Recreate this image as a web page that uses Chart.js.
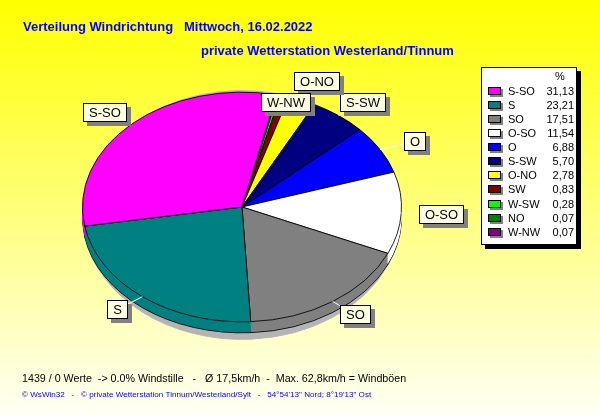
<!DOCTYPE html>
<html>
<head>
<meta charset="utf-8">
<script src="https://cdn.jsdelivr.net/npm/chart.js@4"></script>
<style>
  html, body { margin: 0; padding: 0; }
  canvas { display: block; background: linear-gradient(#ffff00, #fffff6); }
</style>
</head>
<body>
<canvas id="windChart" width="600" height="415"></canvas>
<script>
// Windrichtungen und Anteile in %
const richtungen = ['S-SO', 'S', 'SO', 'O-SO', 'O', 'S-SW', 'O-NO', 'SW', 'W-SW', 'NO', 'W-NW'];
const anteile = [31.13, 23.21, 17.51, 11.54, 6.88, 5.70, 2.78, 0.83, 0.28, 0.07, 0.07];
const farben = ['#ff00ff', '#008080', '#808080', '#ffffff', '#0000ff', '#000080', '#ffff00', '#800000', '#00ff00', '#008000', '#800080'];
const ohneLabel = ['SW', 'W-SW', 'NO'];

const titel = 'Verteilung Windrichtung   Mittwoch, 16.02.2022';
const untertitel = 'private Wetterstation Westerland/Tinnum';
const fusszeile = '1439 / 0 Werte  -> 0.0% Windstille   -   \u00d8 17,5km/h  -  Max. 62,8km/h = Windb\u00f6en';
const copyright = '\u00a9 WsWin32   -   \u00a9 private Wetterstation Tinnum/Westerland/Sylt   -   54\u00b054\'13" Nord; 8\u00b019\'13" Ost';

const NEIGUNG = 0.72;   // Kippung der Torte
const TIEFE = 11;       // Dicke der Torte
const FONT = '"Liberation Sans", Arial, sans-serif';

// Torte läuft gegen den Uhrzeigersinn -> Daten umgedreht an Chart.js
const chartLabels = richtungen.slice().reverse();
const chartWerte = anteile.slice().reverse();
const chartFarben = farben.slice().reverse();

function ueberlappt(a, b) {
    return a.x < b.x + b.w + 2 && b.x < a.x + a.w + 2 && a.y < b.y + b.h + 2 && b.y < a.y + a.h + 2;
}

// Label senkrecht verschieben bis frei, kleinere Verschiebung gewinnt (nach unten bevorzugt)
function freiSchieben(box, platziert) {
    let n = 0;
    while (n++ < 20) {
        const hit = platziert.find(b => ueberlappt(b, box));
        if (!hit) return;
        const hoch = box.y + box.h + 2 - hit.y;
        const runter = hit.y + hit.h + 2 - box.y;
        if (runter * 0.7 < hoch) box.y += runter; else box.y -= hoch;
    }
}

const tortePlugin = {
    id: 'torte3d',
    beforeDatasetsDraw(chart) {
        const ctx = chart.ctx;
        const arcs = chart.getDatasetMeta(0).data;
        const cx = arcs[0].x, cy = arcs[0].y;
        const schraeg = (dx, dy, k) => {
            ctx.translate(cx + dx, cy + dy);
            ctx.scale(1, k);
            ctx.translate(-cx, -cy);
        };
        // Schatten (Form ausserhalb zeichnen, nur Schatten sichtbar)
        ctx.save();
        ctx.shadowColor = '#b4b4b4';
        ctx.shadowOffsetX = 5000;
        ctx.shadowOffsetY = 0;
        schraeg(-5000, 8, 0.78);
        arcs.forEach(el => el.draw(ctx));
        ctx.restore();
        // Seitenwand
        for (let d = TIEFE; d >= 1; d--) {
            ctx.save();
            schraeg(0, d, NEIGUNG);
            arcs.forEach(el => {
                if (d === TIEFE) {
                    el.draw(ctx);
                } else {
                    const orig = el.options;
                    el.options = Object.assign({}, orig, { borderWidth: 0 });
                    el.draw(ctx);
                    el.options = orig;
                }
            });
            ctx.restore();
        }
        ctx.save();
        schraeg(0, 0, NEIGUNG);
    },
    afterDatasetsDraw(chart) {
        const ctx = chart.ctx;
        ctx.restore();
        const arcs = chart.getDatasetMeta(0).data;
        const cx = arcs[0].x, cy = arcs[0].y;
        ctx.save();
        ctx.font = '13px ' + FONT;
        const platziert = [];
        const linien = [];
        richtungen.forEach((name, i) => {
            if (ohneLabel.includes(name)) return;
            const el = arcs[richtungen.length - 1 - i];
            const mid = (el.startAngle + el.endAngle) / 2;
            const R = el.outerRadius;
            const px = cx + Math.cos(mid) * R, py = cy + Math.sin(mid) * R * NEIGUNG;
            const lx = cx + Math.cos(mid) * R * 1.25, ly = cy + Math.sin(mid) * R * NEIGUNG * 1.14;
            const w = Math.round(ctx.measureText(name).width + 12), h = 19;
            const box = { x: Math.round(lx - w / 2), y: Math.round(ly - h / 2), w, h, name };
            freiSchieben(box, platziert);
            platziert.push(box);
            linien.push([px, py, box.x + w / 2, box.y + h / 2]);
        });
        ctx.strokeStyle = '#ffffff';
        ctx.lineWidth = 1;
        linien.forEach(l => {
            ctx.beginPath();
            ctx.moveTo(l[0], l[1]);
            ctx.lineTo(l[2], l[3]);
            ctx.stroke();
        });
        platziert.forEach(box => {
            ctx.fillStyle = '#808080';
            ctx.fillRect(box.x + 4, box.y + 4, box.w, box.h);
            ctx.fillStyle = '#ffffe1';
            ctx.fillRect(box.x, box.y, box.w, box.h);
            ctx.strokeStyle = '#000000';
            ctx.strokeRect(box.x + 0.5, box.y + 0.5, box.w - 1, box.h - 1);
            ctx.fillStyle = '#000000';
            ctx.textAlign = 'center';
            ctx.textBaseline = 'middle';
            ctx.fillText(box.name, box.x + box.w / 2, box.y + box.h / 2 + 1);
        });
        ctx.restore();
    },
    afterDraw(chart) {
        const ctx = chart.ctx;
        ctx.save();
        // Titel
        ctx.fillStyle = '#0000ff';
        ctx.textBaseline = 'alphabetic';
        ctx.textAlign = 'left';
        ctx.font = 'bold 13px ' + FONT;
        ctx.fillText(titel, 23, 31);
        ctx.fillText(untertitel, 201, 55);
        // Fusszeilen
        ctx.fillStyle = '#000000';
        ctx.font = '10.7px ' + FONT;
        ctx.fillText(fusszeile, 22, 382);
        ctx.fillStyle = '#0000ff';
        ctx.font = '8.1px ' + FONT;
        ctx.fillText(copyright, 22, 397);

        // Legende
        const lx = 481, ly = 67, lw = 96, lh = 178;
        ctx.fillStyle = '#000000';
        ctx.fillRect(lx + 4, ly + 4, lw, lh);
        ctx.fillStyle = '#ffffff';
        ctx.fillRect(lx, ly, lw, lh);
        ctx.strokeStyle = '#000000';
        ctx.lineWidth = 1;
        ctx.strokeRect(lx + 0.5, ly + 0.5, lw - 1, lh - 1);
        ctx.font = '11px ' + FONT;
        ctx.textBaseline = 'middle';
        ctx.fillStyle = '#000000';
        ctx.textAlign = 'center';
        ctx.fillText('%', 560, 77);
        richtungen.forEach((name, i) => {
            const y = Math.round(91 + i * 14.07);
            ctx.fillStyle = '#808080';
            ctx.fillRect(490, y - 2, 13, 8);
            ctx.fillStyle = farben[i];
            ctx.fillRect(488, y - 4, 13, 8);
            ctx.strokeStyle = '#000000';
            ctx.strokeRect(488.5, y - 3.5, 12, 7);
            ctx.fillStyle = '#000000';
            ctx.textAlign = 'left';
            ctx.fillText(name, 508, y + 1);
            ctx.textAlign = 'right';
            ctx.fillText(anteile[i].toFixed(2).replace('.', ','), 574, y + 1);
        });
        ctx.restore();
    }
};

const ctx = document.getElementById('windChart').getContext('2d');
const windChart = new Chart(ctx, {
    type: 'pie',
    data: {
        labels: chartLabels,
        datasets: [{
            data: chartWerte,
            backgroundColor: chartFarben,
            borderColor: '#000000',
            borderWidth: 1
        }]
    },
    options: {
        responsive: false,
        animation: false,
        rotation: 12.5,
        layout: {
            padding: { left: 82, right: 198, top: 47, bottom: 48 }
        },
        plugins: {
            legend: { display: false },
            tooltip: { enabled: false }
        }
    },
    plugins: [tortePlugin]
});
</script>
</body>
</html>
